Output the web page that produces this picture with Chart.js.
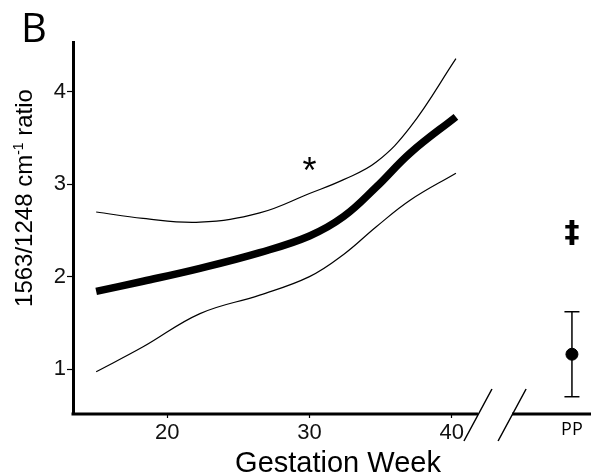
<!DOCTYPE html>
<html>
<head>
<meta charset="utf-8">
<script src="https://cdn.jsdelivr.net/npm/chart.js@4/dist/chart.umd.min.js"></script>
<style>
  html, body { margin: 0; padding: 0; background: #fff; }
  #wrap { width: 591px; height: 475px; position: relative; }
</style>
</head>
<body>
<div id="wrap"><canvas id="c"></canvas></div>
<script>
'use strict';

// Fitted ratio across gestation, with confidence band, plus the postpartum point.
const weeks = [15, 18.3, 22.3, 26.5, 30, 32.4, 34.7, 37.1, 40.3];
const fitMean = [1.84, 1.95, 2.09, 2.26, 2.44, 2.65, 2.97, 3.34, 3.73];
const fitUpper = [2.70, 2.63, 2.59, 2.69, 2.90, 3.05, 3.24, 3.62, 4.36];
const fitLower = [0.97, 1.24, 1.60, 1.80, 2.00, 2.24, 2.54, 2.83, 3.12];

const ppLabel = 'PP';
const ppPos = 48.46;      // where the PP group sits on the x scale
const ppMean = [1.16];
const ppLow = [0.70];
const ppHigh = [1.62];

const xTicks = [20, 30, 40];
const yTicks = [1, 2, 3, 4];
const breakFrom = 41.85;  // axis break between week 40 and PP
const breakTo = 44.25;

const marks = [
  { text: '*', x: 30, y: 3.21, dy: 8, font: '36px "Liberation Sans", Arial, sans-serif' },
  { text: '\u2021', x: ppPos, y: 2.48, dy: 2, font: 'bold 30px "DejaVu Sans", sans-serif' },
];

const FONT = '"Liberation Sans", Arial, sans-serif';
const INK = '#000';

const pts = (ys) => ys.map((y, i) => ({ x: weeks[i], y }));

// axis break, titles, PP label and significance marks
const extras = {
  id: 'extras',
  afterDraw(chart) {
    const { ctx, chartArea: a, scales: { x, y } } = chart;
    const yb = a.bottom;
    const b0 = x.getPixelForValue(breakFrom);
    const b1 = x.getPixelForValue(breakTo);
    ctx.save();
    ctx.strokeStyle = INK;
    ctx.lineWidth = 3;
    ctx.beginPath();
    ctx.moveTo(a.left - 1.5, yb); ctx.lineTo(b0, yb);
    ctx.moveTo(b1, yb); ctx.lineTo(a.right, yb);
    ctx.stroke();

    ctx.lineWidth = 1.5;
    ctx.beginPath();
    [b0, b1].forEach((bx) => {
      ctx.moveTo(bx - 14, yb + 27);
      ctx.lineTo(bx + 14, yb - 25);
    });
    ctx.stroke();

    ctx.fillStyle = INK;
    ctx.textAlign = 'center';
    ctx.textBaseline = 'middle';
    marks.forEach((m) => {
      ctx.font = m.font;
      ctx.fillText(m.text, x.getPixelForValue(m.x), y.getPixelForValue(m.y) + m.dy);
    });

    ctx.font = '18px "Open Sans", sans-serif';
    ctx.textBaseline = 'top';
    ctx.fillText(ppLabel, x.getPixelForValue(ppPos), yb + 7);

    ctx.font = '29px ' + FONT;
    ctx.textBaseline = 'alphabetic';
    ctx.fillText('Gestation Week', 338, 472);

    ctx.textAlign = 'left';
    ctx.font = '40px "Open Sans", sans-serif';
    ctx.fillText('B', 21, 42);

    // rotated y title with superscript
    ctx.translate(32, 198);
    ctx.rotate(-Math.PI / 2);
    const big = '24px ' + FONT;
    const small = '14px ' + FONT;
    const parts = [['1563/1248 cm', big, 0], ['-1', small, -9], [' ratio', big, 0]];
    let w = 0;
    parts.forEach(([t, f]) => { ctx.font = f; w += ctx.measureText(t).width; });
    let cx = -w / 2;
    parts.forEach(([t, f, dy]) => {
      ctx.font = f;
      ctx.fillText(t, cx, dy);
      cx += ctx.measureText(t).width;
    });
    ctx.restore();
  },
};

new Chart(document.getElementById('c'), {
  type: 'line',
  data: {
    datasets: [
      { data: pts(fitUpper), borderColor: INK, borderWidth: 1.2, pointRadius: 0, tension: 0.4 },
      { data: pts(fitLower), borderColor: INK, borderWidth: 1.2, pointRadius: 0, tension: 0.4 },
      { data: pts(fitMean), borderColor: INK, borderWidth: 7.5, pointRadius: 0, tension: 0.4, borderCapStyle: 'butt' },
      {
        data: [{ x: ppPos, y: ppLow[0] }, { x: ppPos, y: ppHigh[0] }],
        borderColor: INK, borderWidth: 1.5, showLine: true,
        pointStyle: 'line', pointRadius: 7.5, pointBorderWidth: 1.5, pointBorderColor: INK,
      },
      {
        data: ppMean.map((v) => ({ x: ppPos, y: v })),
        showLine: false, pointStyle: 'circle', pointRadius: 6,
        pointBackgroundColor: INK, pointBorderColor: INK,
      },
    ],
  },
  options: {
    responsive: true,
    maintainAspectRatio: false,
    animation: false,
    devicePixelRatio: 1,
    layout: { autoPadding: false, padding: { top: 42, left: 0, right: 0, bottom: 0 } },
    plugins: { legend: { display: false }, tooltip: { enabled: false } },
    scales: {
      x: {
        type: 'linear', min: 13.37, max: 49.8,
        afterBuildTicks: (s) => { s.ticks = xTicks.map((v) => ({ value: v })); },
        afterFit: (s) => { s.height = 61; s.paddingLeft = 0; s.paddingRight = 0; },
        border: { display: false },
        grid: { drawOnChartArea: false, drawTicks: true, tickLength: 4, tickColor: INK, tickWidth: 1.2 },
        ticks: { font: { family: FONT, size: 22 }, color: '#111', padding: 2, maxRotation: 0 },
      },
      y: {
        min: 0.513, max: 4.54,
        afterBuildTicks: (s) => { s.ticks = yTicks.map((v) => ({ value: v })); },
        afterFit: (s) => { s.width = 73; s.paddingTop = 0; s.paddingBottom = 0; },
        border: { display: true, color: INK, width: 3 },
        grid: { drawOnChartArea: false, drawTicks: true, tickLength: 6, tickColor: INK, tickWidth: 1.2 },
        ticks: { font: { family: FONT, size: 22 }, color: '#111', padding: 1 },
      },
    },
  },
  plugins: [extras],
});
</script>
</body>
</html>
